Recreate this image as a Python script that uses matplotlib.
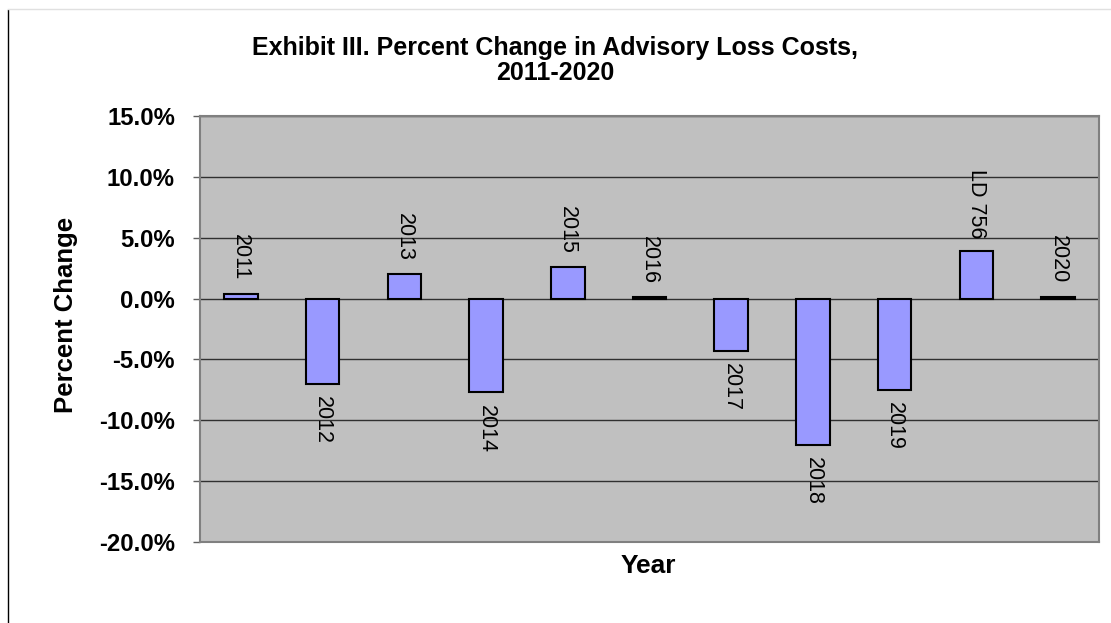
import matplotlib
matplotlib.use("Agg")
import matplotlib.pyplot as plt
from matplotlib.lines import Line2D
import numpy as np

categories = ["2011", "2012", "2013", "2014", "2015", "2016", "2017", "2018", "2019", "LD 756", "2020"]
pct_change = [0.4, -7.0, 2.0, -7.7, 2.6, 0.15, -4.3, -12.0, -7.5, 3.9, 0.15]
yticks = [15, 10, 5, 0, -5, -10, -15, -20]

plt.rcParams['font.family'] = ['Liberation Sans', 'DejaVu Sans']

W, H = 1111, 623
fig = plt.figure(figsize=(W/100, H/100), dpi=100)
fig.patch.set_facecolor("white")
ax = fig.add_axes([200/W, 1-542/H, 899/W, 426/H])
ax.set_facecolor("#C0C0C0")

x = np.arange(len(categories))
ax.bar(x, pct_change, width=0.41, color="#9999FF", edgecolor="black", linewidth=1.5, zorder=3)

for xi, v, lab in zip(x, pct_change, categories):
    if v >= 0:
        ax.annotate(lab, (xi, v), xytext=(0, 9.5), textcoords="offset points",
                    rotation=-90, ha="center", va="bottom", fontsize=15.5, zorder=4)
    else:
        ax.annotate(lab, (xi, v), xytext=(0, -9), textcoords="offset points",
                    rotation=-90, ha="center", va="top", fontsize=15.5, zorder=4)

ax.set_xlim(-0.5, len(categories) - 0.5)
ax.set_ylim(-20, 15)
ax.set_yticks(yticks)
ax.set_yticklabels([f"{t:.1f}%" for t in yticks], fontsize=17.2, fontweight="bold")
ax.set_xticks([])
ax.yaxis.grid(True, color="#303030", linewidth=1.0, zorder=1)
ax.set_axisbelow(True)
ax.tick_params(axis="y", direction="out", length=5, width=1, color="#606060", pad=13)
for s in ax.spines.values():
    s.set_color("#808080")
    s.set_linewidth(1.5)

fig.text(66/W, 1-315/H, "Percent Change", rotation=90, ha="center", va="center",
         fontsize=18.5, fontweight="bold")
fig.text(648/W, 1-573/H, "Year", ha="center", va="baseline", fontsize=19, fontweight="bold")

fig.text(555/W, 1-55/H, "Exhibit III. Percent Change in Advisory Loss Costs,", ha="center", va="baseline",
         fontsize=18, fontweight="bold")
fig.text(555/W, 1-80/H, "2011-2020", ha="center", va="baseline", fontsize=18, fontweight="bold")

fig.add_artist(Line2D([8/W, 8/W], [0, 1-10/H], transform=fig.transFigure, color="black", linewidth=1))
fig.add_artist(Line2D([8/W, 1], [1-9/H, 1-9/H], transform=fig.transFigure, color="#E0E0E0", linewidth=1))

fig.savefig("out.png", dpi=100, facecolor="white")
